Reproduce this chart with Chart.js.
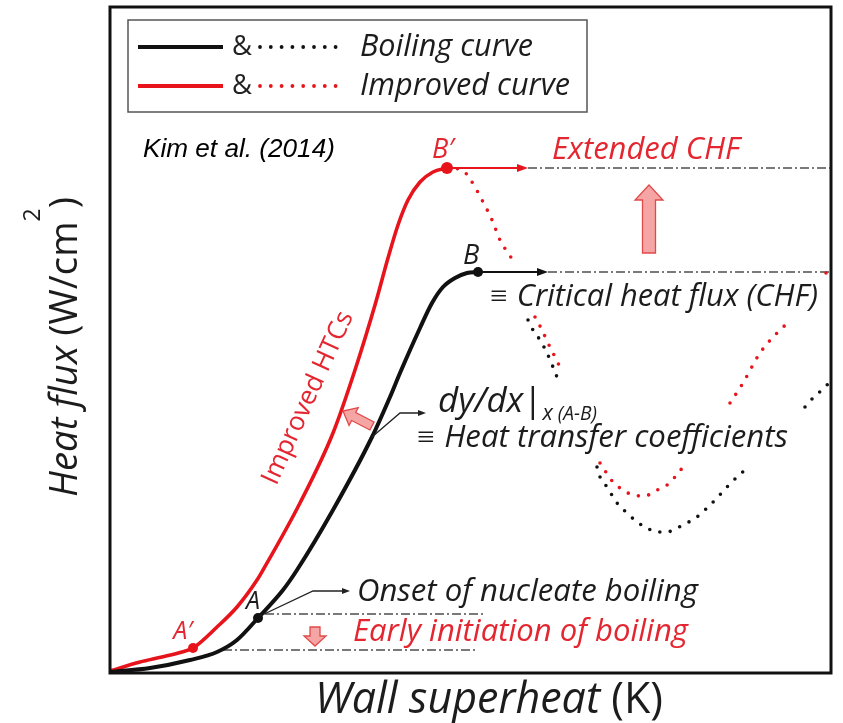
<!DOCTYPE html>
<html><head><meta charset="utf-8">
<script src="https://cdn.jsdelivr.net/npm/chart.js@4.4.1/dist/chart.umd.min.js"></script>
<style>html,body{margin:0;padding:0;background:#fff;}#wrap{width:843px;height:723px;}</style>
</head><body><div id="wrap"><canvas id="c" width="843" height="723"></canvas></div>
<script>
// ---- schematic axis ranges (arbitrary units) ----
const xRange = [0, 721];
const yRange = [0, 666];

// ---- curves: [wall superheat, heat flux] ----
const boilingSolid = [[0,1],[40,5],[80,13],[107,21],[127,33],[148,55],[173,83],[187,103],[223,163],[262,236],[280,276],[290,300],[310,345],[322,370],[333,386],[345,395],[357,400],[368,401]];
const improvedSolid = [[0,2],[30,11],[52,16],[72,21],[83,25],[107,46],[127,66],[147,93],[153,103],[190,170],[223,240],[245,303],[265,368],[278,415],[288,448],[298,473],[310,491],[323,501],[337,505]];
const boilingDotted = [[418,353],[423,343],[430,333],[437,320],[443,306],[450,288],[470,null],[487,206],[490,196],[497,186],[507,170],[517,160],[527,151],[537,145],[547,141],[557,141],[567,145],[577,150],[587,156],[597,165],[607,175],[617,186],[627,196],[635,203],[665,null],[695,266],[703,275],[713,284],[721,292]];
const improvedDotted = [[337,505],[352,503],[360,494],[372,473],[382,453],[390,433],[398,420],[405,410],[415,null],[425,356],[432,343],[438,330],[445,316],[452,302],[470,null],[490,210],[503,191],[513,183],[523,178],[535,177],[545,182],[557,188],[565,196],[573,206],[595,null],[620,270],[633,290],[650,320],[667,340],[681,353],[700,null],[716,400],[721,406]];

// ---- key points A, A', B, B' ----
const keyLabels = ['A', 'A′', 'B', 'B′'];
const keyPoints = [[148,55],[83,25],[368,401],[337,505]];

// ---- reference levels ----
const chfLevels = [401, 505];      // CHF, extended CHF
const onbLevels = [59, 23];        // onset of boiling, early onset

const RED = '#e8141c', RED_T = '#e3262f', BLK = '#111', TXT = '#1c1c1c';
const PINK = '#f6a5a5', PINK_S = '#e04a4a', REFC = '#4d4d4d';

const toXY = a => a.map(p => ({x: p[0], y: p[1]}));

// annotation layout (data units)
const refLines = [
  {y: chfLevels[1], x0: 418, x1: 721},
  {y: chfLevels[0], x0: 438, x1: 721},
  {y: onbLevels[0], x0: 155, x1: 373},
  {y: onbLevels[1], x0: 113, x1: 368}
];
const hArrows = [
  {x0: 340, x1: 418, y: chfLevels[1], c: RED},
  {x0: 371, x1: 438, y: chfLevels[0], c: BLK}
];
const thinArrows = [
  [[150,57],[203,82],[237,82]],
  [[262,236],[290,260],[313,260]]
];
const blockArrows = [
  {tail:[539,420], tip:[539,488], sw:13, hw:28, hl:15},
  {tail:[205,46], tip:[205,27], sw:10, hw:22, hl:10},
  {tail:[262,247], tip:[233,262], sw:9, hw:20, hl:12}
];
const I = 'italic', N = 'normal', OS = '"Open Sans"';
const texts = [
  {parts:[{t:'Kim et al. (2014)', s:I, f:'"Liberation Sans"'}], x:33, y:523, w:192, c:'#000'},
  {parts:[{t:keyLabels[3], s:I}], x:333, y:523, size:27, c:RED_T, align:'center'},
  {parts:[{t:'Extended CHF', s:I}], x:442, y:523, w:188, c:RED_T},
  {parts:[{t:keyLabels[2], s:I}], x:361, y:417, size:27, c:TXT, align:'center'},
  {parts:[{t:'≡ Critical heat flux (CHF)', s:I}], x:378, y:376, w:330, c:TXT},
  {parts:[{t:'dy/dx', s:I},{t:'|', s:N},{t:'x', s:I, r:0.62, dy:9},{t:' (A-B)', s:I, r:0.55, dy:9}], x:328, y:271, w:159, c:TXT},
  {parts:[{t:'≡ Heat transfer coefficients', s:I}], x:305, y:235, w:373, c:TXT},
  {parts:[{t:'Onset of nucleate boiling', s:I}], x:247, y:81, w:341, c:TXT},
  {parts:[{t:'Early initiation of boiling', s:I}], x:243, y:41, w:335, c:RED_T},
  {parts:[{t:keyLabels[0], s:I}], x:143, y:71, size:25, c:TXT, align:'center'},
  {parts:[{t:keyLabels[1], s:I}], x:73, y:41, size:25, c:RED_T, align:'center'},
  {parts:[{t:'Improved HTCs', s:N}], x:198, y:275, w:187, c:RED_T, align:'center', rot:-65.6}
];

function setFont(ctx, p, size) {
  ctx.font = p.s + ' ' + (size * (p.r || 1)).toFixed(2) + 'px ' + (p.f || OS);
}
function drawRuns(ctx, parts, x, y, opt) {
  let size = opt.size || 26;
  const measure = sz => parts.reduce((w, p) => { setFont(ctx, p, sz); return w + ctx.measureText(p.t).width; }, 0);
  if (opt.w) size = size * opt.w / measure(size);
  const total = measure(size);
  let cx = opt.align === 'center' ? x - total / 2 : x;
  ctx.textAlign = 'left'; ctx.textBaseline = 'middle';
  parts.forEach(p => {
    setFont(ctx, p, size);
    ctx.fillStyle = p.c || opt.c;
    ctx.fillText(p.t, cx, y + (p.dy || 0) * size / 26);
    cx += ctx.measureText(p.t).width;
  });
}
function arrowHead(ctx, x0, y0, x1, y1, len, wid) {
  const a = Math.atan2(y1 - y0, x1 - x0);
  ctx.beginPath();
  ctx.moveTo(x1, y1);
  ctx.lineTo(x1 - len * Math.cos(a) + wid * Math.sin(a), y1 - len * Math.sin(a) - wid * Math.cos(a));
  ctx.lineTo(x1 - len * Math.cos(a) - wid * Math.sin(a), y1 - len * Math.sin(a) + wid * Math.cos(a));
  ctx.closePath(); ctx.fill();
}
function blockArrow(ctx, tx, ty, px, py, sw, hw, hl) {
  const L = Math.hypot(px - tx, py - ty), ux = (px - tx) / L, uy = (py - ty) / L, nx = -uy, ny = ux;
  const bx = px - ux * hl, by = py - uy * hl;
  const pts = [
    [tx + nx * sw / 2, ty + ny * sw / 2], [bx + nx * sw / 2, by + ny * sw / 2], [bx + nx * hw / 2, by + ny * hw / 2],
    [px, py], [bx - nx * hw / 2, by - ny * hw / 2], [bx - nx * sw / 2, by - ny * sw / 2], [tx - nx * sw / 2, ty - ny * sw / 2]
  ];
  ctx.beginPath(); pts.forEach((q, i) => i ? ctx.lineTo(q[0], q[1]) : ctx.moveTo(q[0], q[1])); ctx.closePath();
  ctx.fillStyle = PINK; ctx.fill(); ctx.strokeStyle = PINK_S; ctx.lineWidth = 1.3; ctx.stroke();
}

const overlay = {
  id: 'overlay',
  beforeDatasetsDraw(chart) {
    const {ctx, scales: {x, y}} = chart;
    const X = v => x.getPixelForValue(v), Y = v => y.getPixelForValue(v);
    ctx.save();
    ctx.strokeStyle = REFC; ctx.lineWidth = 1.4; ctx.setLineDash([9, 3, 2, 3]);
    refLines.forEach(r => { ctx.beginPath(); ctx.moveTo(X(r.x0), Y(r.y)); ctx.lineTo(X(r.x1), Y(r.y)); ctx.stroke(); });
    ctx.restore();
  },
  afterDatasetsDraw(chart) {
    const {ctx, chartArea: a, scales: {x, y}} = chart;
    const X = v => x.getPixelForValue(v), Y = v => y.getPixelForValue(v);
    ctx.save();
    // horizontal CHF arrows
    hArrows.forEach(h => {
      ctx.strokeStyle = h.c; ctx.fillStyle = h.c; ctx.lineWidth = 2;
      ctx.beginPath(); ctx.moveTo(X(h.x0), Y(h.y)); ctx.lineTo(X(h.x1) - 6, Y(h.y)); ctx.stroke();
      arrowHead(ctx, X(h.x0), Y(h.y), X(h.x1), Y(h.y), 11, 4);
    });
    // thin pointer arrows
    thinArrows.forEach(pts => {
      ctx.strokeStyle = '#222'; ctx.fillStyle = '#222'; ctx.lineWidth = 1.3;
      ctx.beginPath();
      pts.forEach((p, i) => i ? ctx.lineTo(X(p[0]), Y(p[1])) : ctx.moveTo(X(p[0]), Y(p[1])));
      ctx.stroke();
      const n = pts.length;
      arrowHead(ctx, X(pts[n-2][0]), Y(pts[n-2][1]), X(pts[n-1][0]) + 3, Y(pts[n-1][1]), 8, 3);
    });
    // block arrows
    blockArrows.forEach(b => blockArrow(ctx, X(b.tail[0]), Y(b.tail[1]), X(b.tip[0]), Y(b.tip[1]), b.sw, b.hw, b.hl));
    // annotation texts
    texts.forEach(t => {
      if (t.rot) {
        ctx.save(); ctx.translate(X(t.x), Y(t.y)); ctx.rotate(t.rot * Math.PI / 180);
        drawRuns(ctx, t.parts, 0, 0, t); ctx.restore();
      } else drawRuns(ctx, t.parts, X(t.x), Y(t.y), t);
    });
    // axis titles
    drawRuns(ctx, [{t:'Wall superheat', s:I}, {t:' (K)', s:N}], 315, 701, {w:348, c:TXT});
    ctx.save(); ctx.translate(66, 347); ctx.rotate(-Math.PI / 2);
    drawRuns(ctx, [{t:'Heat flux', s:I}, {t:' (W/cm', s:N}, {t:'2', s:N, r:0.6, dy:-22}, {t:')', s:N}], 0, 0, {w:300, c:TXT, align:'center'});
    ctx.restore();
    // legend
    ctx.strokeStyle = '#555'; ctx.lineWidth = 1.5; ctx.strokeRect(128, 20, 459, 92);
    [[47, BLK, 'Boiling curve', 173], [86, RED, 'Improved curve', 210]].forEach(([ly, col, lab, w]) => {
      ctx.strokeStyle = col; ctx.lineWidth = 4; ctx.lineCap = 'butt';
      ctx.beginPath(); ctx.moveTo(138, ly); ctx.lineTo(223, ly); ctx.stroke();
      drawRuns(ctx, [{t:'&', s:N}], 232, ly, {w:20, c:'#222'});
      ctx.fillStyle = col;
      for (let k = 0; k < 8; k++) { ctx.beginPath(); ctx.arc(260 + k * 10.8, ly, 1.9, 0, 2 * Math.PI); ctx.fill(); }
      drawRuns(ctx, [{t:lab, s:I}], 360, ly, {w:w, c:TXT});
    });
    // frame
    ctx.strokeStyle = '#111'; ctx.lineWidth = 3;
    ctx.strokeRect(a.left, a.top, a.right - a.left, a.bottom - a.top);
    ctx.restore();
  }
};

new Chart(document.getElementById('c'), {
  type: 'scatter',
  data: {
    datasets: [
      {label:'Key points', data: toXY(keyPoints), pointRadius:[5,5,5,6], pointBackgroundColor:[BLK, RED, BLK, RED], pointBorderWidth:0, showLine:false},
      {label:'Boiling curve', data: toXY(boilingSolid), showLine:true, borderColor:BLK, borderWidth:4, pointRadius:0, cubicInterpolationMode:'monotone'},
      {label:'Improved curve', data: toXY(improvedSolid), showLine:true, borderColor:RED, borderWidth:3.6, pointRadius:0, cubicInterpolationMode:'monotone'},
      {label:'Boiling (transition)', data: toXY(boilingDotted), showLine:true, borderColor:BLK, borderWidth:3.6, borderDash:[0, 10.5], borderCapStyle:'round', pointRadius:0, cubicInterpolationMode:'monotone', spanGaps:false},
      {label:'Improved (transition)', data: toXY(improvedDotted), showLine:true, borderColor:RED, borderWidth:3.6, borderDash:[0, 10.5], borderCapStyle:'round', pointRadius:0, cubicInterpolationMode:'monotone', spanGaps:false}
    ]
  },
  options: {
    responsive: false, devicePixelRatio: 1, animation: false,
    layout: {padding: {left: 110, top: 7, right: 12, bottom: 50}},
    scales: {
      x: {type:'linear', min:xRange[0], max:xRange[1], display:false},
      y: {type:'linear', min:yRange[0], max:yRange[1], display:false}
    },
    plugins: {legend:{display:false}, tooltip:{enabled:false}},
    events: []
  },
  plugins: [overlay]
});
</script></body></html>
